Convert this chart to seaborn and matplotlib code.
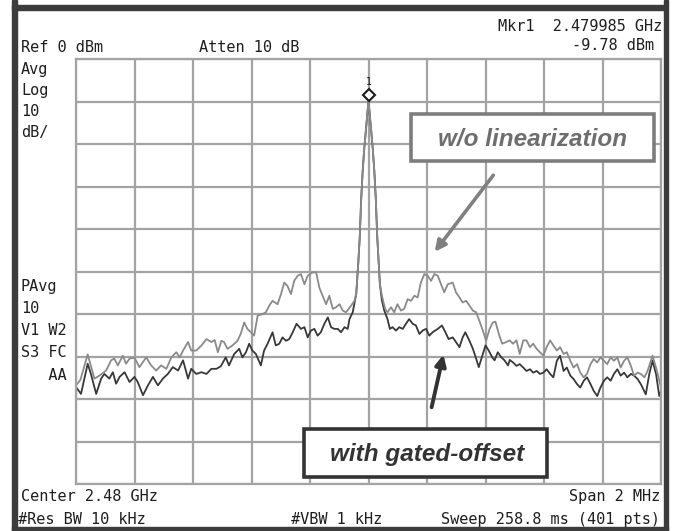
import matplotlib
matplotlib.use("Agg")
import matplotlib.pyplot as plt
import matplotlib.transforms as mtransforms
from matplotlib.patches import Rectangle, FancyArrowPatch
import seaborn as sns
import numpy as np

# ---------------- data (offset from centre, MHz ; level, dBm) ----------------
freq_wo = [-1.000, -0.985, -0.960, -0.937, -0.920, -0.897, -0.880, -0.869, -0.857, -0.840,
           -0.829, -0.817, -0.800, -0.783, -0.760, -0.743, -0.726, -0.709, -0.691, -0.674,
           -0.657, -0.646, -0.634, -0.617, -0.606, -0.589, -0.571, -0.554, -0.537, -0.526,
           -0.515, -0.503, -0.494, -0.482, -0.465, -0.448, -0.437, -0.425, -0.414, -0.402,
           -0.391, -0.379, -0.362, -0.351, -0.339, -0.328, -0.311, -0.299, -0.288, -0.277,
           -0.265, -0.254, -0.242, -0.231, -0.219, -0.208, -0.191, -0.179, -0.168, -0.157,
           -0.145, -0.134, -0.122, -0.111, -0.099, -0.088, -0.077, -0.059, -0.048, -0.042,
           -0.035, -0.030, -0.025, -0.020, -0.015, -0.010, -0.005, 0.000,
           0.005, 0.010, 0.015, 0.020, 0.025, 0.030, 0.035,
           0.039, 0.046, 0.050, 0.057, 0.065, 0.077, 0.088, 0.099, 0.111, 0.122,
           0.134, 0.145, 0.157, 0.168, 0.179, 0.191, 0.202, 0.214, 0.225, 0.237,
           0.248, 0.259, 0.271, 0.288, 0.299, 0.311, 0.322, 0.334, 0.345, 0.357,
           0.368, 0.379, 0.391, 0.402, 0.414, 0.425, 0.434, 0.446, 0.457, 0.471,
           0.483, 0.494, 0.506, 0.517, 0.529, 0.540, 0.552, 0.563, 0.575, 0.586,
           0.598, 0.609, 0.621, 0.632, 0.644, 0.655, 0.667, 0.678, 0.690, 0.701,
           0.713, 0.724, 0.736, 0.747, 0.759, 0.770, 0.782, 0.793, 0.805, 0.816,
           0.828, 0.839, 0.851, 0.862, 0.874, 0.885, 0.897, 0.908, 0.920, 0.931,
           0.943, 0.954, 0.971, 0.983, 0.994, 1.000]
level_wo = [-76.8, -75.5, -69.5, -75.2, -74.5, -73.3, -70.9, -70.5, -72.1, -69.8,
            -71.7, -70.5, -70.3, -72.5, -70.2, -72.1, -73.3, -72.1, -72.9, -70.2,
            -69.0, -70.2, -68.6, -66.6, -68.6, -68.6, -67.4, -65.9, -66.6, -66.1,
            -69.0, -66.3, -66.6, -68.2, -67.4, -66.3, -64.7, -62.0, -63.5, -64.3,
            -65.1, -60.4, -60.0, -59.6, -58.0, -56.9, -57.7, -55.3, -52.6, -53.4,
            -55.3, -52.2, -51.0, -50.6, -53.0, -51.0, -50.2, -50.2, -53.8, -55.7,
            -57.7, -55.7, -58.8, -58.4, -57.7, -59.2, -59.6, -58.0, -56.9, -55.3,
            -48.0, -42.0, -33.0, -26.5, -21.5, -17.5, -13.5, -9.78,
            -13.5, -17.5, -21.5, -26.5, -33.0, -42.0, -48.0,
            -53.0, -55.7, -56.9, -58.8, -59.6, -58.4, -59.6, -57.7, -59.2, -58.8,
            -56.5, -56.9, -55.7, -56.1, -52.6, -50.6, -51.0, -52.2, -50.6, -51.0,
            -53.0, -54.9, -53.0, -52.6, -54.9, -56.1, -57.3, -56.9, -58.0, -59.2,
            -59.6, -61.6, -63.9, -66.3, -63.5, -62.0, -61.8, -64.8, -67.0, -66.6,
            -66.2, -67.0, -66.2, -69.4, -66.2, -66.2, -67.8, -67.0, -68.2, -69.0,
            -69.8, -67.8, -66.2, -67.4, -68.6, -67.8, -69.4, -69.0, -71.0, -72.6,
            -71.8, -73.8, -74.9, -74.1, -71.8, -70.6, -71.4, -70.2, -71.0, -71.8,
            -70.2, -71.0, -70.2, -72.6, -71.0, -70.2, -72.2, -74.5, -73.8, -74.1,
            -74.9, -73.4, -69.8, -72.6, -75.7, -77.3]

freq_gated = [-1.000, -0.983, -0.960, -0.949, -0.931, -0.914, -0.903, -0.886, -0.874, -0.863,
              -0.851, -0.834, -0.817, -0.800, -0.789, -0.771, -0.754, -0.737, -0.720, -0.703,
              -0.686, -0.669, -0.651, -0.634, -0.617, -0.606, -0.589, -0.571, -0.554, -0.537,
              -0.520, -0.505, -0.488, -0.477, -0.459, -0.442, -0.431, -0.419, -0.408, -0.397,
              -0.385, -0.368, -0.357, -0.345, -0.328, -0.317, -0.305, -0.294, -0.282, -0.271,
              -0.259, -0.246, -0.231, -0.219, -0.208, -0.197, -0.185, -0.174, -0.163, -0.151,
              -0.139, -0.128, -0.117, -0.105, -0.094, -0.082, -0.071, -0.065, -0.054, -0.042,
              -0.035, -0.030, -0.025, -0.020, -0.015, -0.010, -0.005, 0.000,
              0.005, 0.010, 0.015, 0.020, 0.025, 0.030, 0.035,
              0.039, 0.046, 0.054, 0.065, 0.073, 0.082, 0.094, 0.105, 0.117, 0.128,
              0.139, 0.151, 0.162, 0.174, 0.185, 0.197, 0.208, 0.219, 0.237, 0.251,
              0.263, 0.274, 0.288, 0.299, 0.311, 0.322, 0.331, 0.345, 0.357, 0.368,
              0.377, 0.389, 0.400, 0.411, 0.423, 0.431, 0.442, 0.454, 0.465, 0.477,
              0.483, 0.494, 0.506, 0.517, 0.529, 0.540, 0.552, 0.563, 0.575, 0.586,
              0.598, 0.609, 0.621, 0.632, 0.644, 0.655, 0.667, 0.678, 0.690, 0.701,
              0.713, 0.724, 0.736, 0.747, 0.759, 0.770, 0.782, 0.793, 0.805, 0.816,
              0.828, 0.839, 0.851, 0.862, 0.874, 0.885, 0.897, 0.908, 0.920, 0.931,
              0.948, 0.960, 0.971, 0.983, 0.994, 1.000]
level_gated = [-77.2, -78.8, -71.7, -74.1, -78.8, -75.2, -74.1, -75.2, -73.7, -76.4,
               -74.8, -73.7, -76.0, -74.8, -76.0, -79.1, -76.8, -74.8, -76.8, -75.2,
               -74.1, -72.5, -73.3, -70.9, -75.2, -72.9, -74.1, -73.7, -74.1, -72.9,
               -72.9, -72.3, -70.2, -72.1, -69.4, -68.2, -70.2, -69.0, -67.0, -68.6,
               -69.4, -72.1, -68.6, -67.0, -64.3, -67.4, -67.0, -65.5, -66.3, -65.9,
               -64.3, -62.3, -63.5, -63.1, -65.5, -63.9, -63.5, -65.1, -64.3, -62.3,
               -60.8, -63.1, -63.5, -63.5, -64.3, -63.1, -63.5, -61.2, -59.6, -55.3,
               -48.0, -42.0, -33.0, -26.5, -21.5, -17.5, -13.5, -9.78,
               -13.5, -17.5, -21.5, -26.5, -33.0, -42.0, -48.0,
               -53.0, -56.9, -59.2, -61.2, -63.5, -63.1, -63.9, -63.1, -63.5, -62.3,
               -61.2, -62.3, -62.7, -64.7, -63.9, -63.5, -65.1, -64.3, -63.5, -62.7,
               -64.3, -65.9, -65.5, -66.6, -67.8, -65.5, -64.3, -66.3, -68.2, -70.5,
               -72.5, -69.8, -67.4, -68.6, -70.2, -70.9, -69.0, -70.2, -70.9, -72.1,
               -70.8, -71.4, -72.2, -71.8, -72.6, -73.4, -73.0, -73.8, -73.4, -74.1,
               -73.8, -73.0, -74.1, -74.9, -71.0, -69.8, -73.4, -72.6, -74.5, -75.3,
               -76.5, -77.3, -75.7, -74.9, -76.5, -78.1, -79.3, -77.3, -75.7, -74.9,
               -75.7, -74.1, -73.0, -74.5, -73.8, -74.9, -74.1, -74.5, -75.3, -76.5,
               -78.9, -74.1, -71.0, -74.1, -79.3, -78.1]

marker_freq = [0.0]
marker_level = [-9.78]

x_ticks = [-1.0, -0.8, -0.6, -0.4, -0.2, 0.0, 0.2, 0.4, 0.6, 0.8, 1.0]
y_ticks = [-100, -90, -80, -70, -60, -50, -40, -30, -20, -10, 0]

# ---------------- figure ----------------
sns.set_style("white")
plt.rcParams["font.family"] = ["DejaVu Sans Mono", "DejaVu Sans"]

W, H = 674, 531
fig = plt.figure(figsize=(W / 100, H / 100), dpi=100)
fig.patch.set_facecolor("white")


def fx(x):
    return x / W


def fy(y):
    return 1 - y / H


ax = fig.add_axes([fx(76), fy(484), fx(661) - fx(76), fy(59) - fy(484)])
ax.set_xlim(-1, 1)
ax.set_ylim(-100, 0)
ax.set_xticks(x_ticks)
ax.set_yticks(y_ticks)
ax.tick_params(length=0, labelbottom=False, labelleft=False)
ax.grid(True, color="#a3a3a3", linewidth=1.6)
for s in ax.spines.values():
    s.set_color("#a3a3a3")
    s.set_linewidth(1.6)
ax.set_xlabel("")
ax.set_ylabel("")

sns.lineplot(x=freq_gated, y=level_gated, ax=ax, color="#383838", linewidth=1.3,
             estimator=None, sort=False)
sns.lineplot(x=freq_wo, y=level_wo, ax=ax, color="#8a8a8a", linewidth=1.3,
             estimator=None, sort=False)
ax.set_xlim(-1, 1)
ax.set_ylim(-100, 0)

# marker (drawn slightly above the trace peak, as the analyser does)
mtr = mtransforms.offset_copy(ax.transData, fig=fig, x=0, y=6, units="dots")
ax.plot(marker_freq, marker_level, marker="D", markersize=6, markerfacecolor="white",
        markeredgecolor="#1a1a1a", markeredgewidth=1.5, linestyle="none",
        transform=mtr, zorder=5, clip_on=False)
mtr2 = mtransforms.offset_copy(ax.transData, fig=fig, x=0, y=14, units="dots")
ax.text(marker_freq[0], marker_level[0], "1", transform=mtr2, ha="center", va="bottom",
        fontsize=7, color="#1a1a1a")

# ---------------- outer frame ----------------
frame_col = "#3c3c3c"
fig.patches.append(Rectangle((fx(12), fy(531)), fx(5), 1, transform=fig.transFigure,
                             color=frame_col, zorder=10))
fig.patches.append(Rectangle((fx(12), fy(10)), fx(657) - fx(2), fy(5) - fy(10),
                             transform=fig.transFigure, color=frame_col, zorder=10))
fig.patches.append(Rectangle((fx(664), fy(531)), fx(4), 1, transform=fig.transFigure,
                             color=frame_col, zorder=10))
fig.patches.append(Rectangle((fx(12), fy(530)), fx(656), fy(527) - fy(530),
                             transform=fig.transFigure, color=frame_col, zorder=10))

# ---------------- screen text ----------------
fs = 11
tc = "#1e1e1e"


def t(x, y, s, ha="left"):
    fig.text(fx(x), fy(y), s, ha=ha, va="baseline", fontsize=fs, color=tc)


t(21, 52, "Ref 0 dBm")
t(199, 52, "Atten 10 dB")
t(662, 31, "Mkr1  2.479985 GHz", ha="right")
t(654, 50, "-9.78 dBm", ha="right")
t(21, 74, "Avg")
t(21, 95, "Log")
t(21, 116, "10")
t(21, 137, "dB/")
t(21, 291, "PAvg")
t(21, 313, "10")
t(21, 335, "V1 W2")
t(21, 357, "S3 FC")
t(21, 380, "   AA")
t(21, 501, "Center 2.48 GHz")
t(660, 501, "Span 2 MHz", ha="right")
t(18, 524, "#Res BW 10 kHz")
t(291, 524, "#VBW 1 kHz")
t(660, 524, "Sweep 258.8 ms (401 pts)", ha="right")

# ---------------- annotations ----------------
ann_font = dict(family=["Liberation Sans", "DejaVu Sans"], weight="bold", style="italic",
                fontsize=17.5)
fig.patches.append(Rectangle((fx(411), fy(161)), fx(654) - fx(411), fy(114) - fy(161),
                             transform=fig.transFigure, facecolor="white",
                             edgecolor="#7d7d7d", linewidth=2.6, zorder=6))
fig.text(fx(533), fy(139), "w/o linearization", ha="center", va="center",
         color="#6e6e6e", zorder=7, **ann_font)
fig.patches.append(FancyArrowPatch((fx(495), fy(173)), (fx(433), fy(254)),
                                   transform=fig.transFigure, arrowstyle="-|>",
                                   mutation_scale=16, color="#808080", linewidth=2.6,
                                   zorder=6))

fig.patches.append(Rectangle((fx(304), fy(477)), fx(547) - fx(304), fy(429) - fy(477),
                             transform=fig.transFigure, facecolor="white",
                             edgecolor="#333333", linewidth=2.6, zorder=6))
fig.text(fx(427), fy(455), "with gated-offset", ha="center", va="center",
         color="#333333", zorder=7, **ann_font)
fig.patches.append(FancyArrowPatch((fx(431), fy(410)), (fx(444), fy(352)),
                                   transform=fig.transFigure, arrowstyle="-|>",
                                   mutation_scale=16, color="#333333", linewidth=2.8,
                                   zorder=6))

fig.savefig("out.png", dpi=100, facecolor="white")
